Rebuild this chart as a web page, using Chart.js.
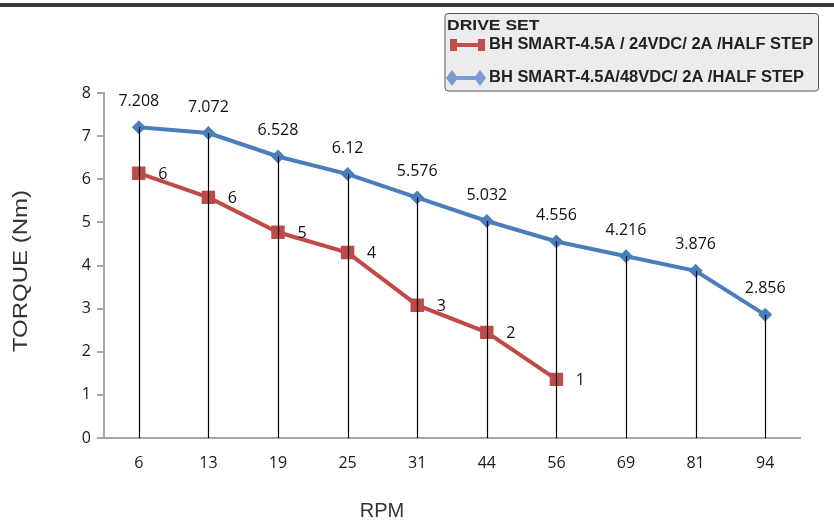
<!DOCTYPE html>
<html>
<head>
<meta charset="utf-8">
<script src="https://cdn.jsdelivr.net/npm/chart.js@4"></script>
<style>
  body { margin: 0; background: #fff; }
  canvas { display: block; }
</style>
</head>
<body>
<canvas id="torqueChart" width="834" height="524"></canvas>
<script>
const rpm = ['6', '13', '19', '25', '31', '44', '56', '69', '81', '94'];
const torque48 = [7.208, 7.072, 6.528, 6.12, 5.576, 5.032, 4.556, 4.216, 3.876, 2.856];
const torque24 = [6.14, 5.58, 4.77, 4.3, 3.08, 2.45, 1.36, null, null, null];
const labels48 = ['7.208', '7.072', '6.528', '6.12', '5.576', '5.032', '4.556', '4.216', '3.876', '2.856'];
const labels24 = ['6', '6', '5', '4', '3', '2', '1'];
const seriesNames = ['BH SMART-4.5A / 24VDC/ 2A /HALF STEP', 'BH SMART-4.5A/48VDC/ 2A /HALF STEP'];

const RED = '#be4b48';
const BLUE = '#4a7ebb';

// stretched text, some texts in the picture are a bit wide
function wideText(ctx, text, x, y, sx) {
  ctx.save();
  ctx.translate(x, y);
  ctx.scale(sx, 1);
  ctx.fillText(text, 0, 0);
  ctx.restore();
}

// drop lines, value labels, axis titles, legend box
const extras = {
  id: 'extras',
  beforeDraw(chart) {
    const ctx = chart.ctx;
    ctx.save();
    ctx.fillStyle = '#3a3a3a';
    ctx.fillRect(0, 3, chart.width, 4);
    ctx.restore();
  },
  afterDatasetsDraw(chart) {
    const ctx = chart.ctx;
    const x = chart.scales.x;
    const y = chart.scales.y;
    ctx.save();
    ctx.strokeStyle = '#000';
    ctx.lineWidth = 1.2;
    rpm.forEach((r, i) => {
      const top = Math.max(torque48[i], torque24[i] || 0);
      const px = Math.round(x.getPixelForValue(i)) + 0.5;
      ctx.beginPath();
      ctx.moveTo(px, y.getPixelForValue(top));
      ctx.lineTo(px, y.getPixelForValue(0));
      ctx.stroke();
    });

    ctx.fillStyle = '#111';
    ctx.font = '16px "Open Sans"';
    ctx.textBaseline = 'middle';
    ctx.textAlign = 'center';
    chart.getDatasetMeta(1).data.forEach((pt, i) => {
      ctx.fillText(labels48[i], pt.x, pt.y - 26);
    });
    chart.getDatasetMeta(0).data.forEach((pt, i) => {
      if (torque24[i] == null) return;
      ctx.fillText(labels24[i], pt.x + 24, pt.y + 1);
    });

    // axis titles
    ctx.fillStyle = '#333';
    ctx.font = '20px "Liberation Sans", Arial';
    ctx.fillText('RPM', 382, 511);
    ctx.translate(21.5, 271);
    ctx.rotate(-Math.PI / 2);
    wideText(ctx, 'TORQUE (Nm)', 0, 0, 1.2);
    ctx.restore();
  },
  afterDraw(chart) {
    const ctx = chart.ctx;
    ctx.save();
    ctx.beginPath();
    ctx.roundRect(445, 13.5, 373.5, 77.5, 3);
    ctx.fillStyle = '#ececec';
    ctx.fill();
    ctx.strokeStyle = '#555';
    ctx.lineWidth = 1;
    ctx.stroke();

    ctx.fillStyle = '#222';
    ctx.textBaseline = 'middle';
    ctx.textAlign = 'left';
    ctx.font = 'bold 15.5px "Liberation Sans", Arial';
    wideText(ctx, 'DRIVE SET', 447, 25.5, 1.13);
    ctx.font = 'bold 16px "Liberation Sans", Arial';
    wideText(ctx, seriesNames[0], 489, 45, 1.03);
    wideText(ctx, seriesNames[1], 489, 78, 1.03);

    // red sample
    ctx.fillStyle = '#c0504d';
    ctx.fillRect(450, 43, 35, 4);
    ctx.fillRect(450, 39, 7, 12);
    ctx.fillRect(478, 39, 7, 12);
    // blue sample
    ctx.fillStyle = '#7b9bd3';
    ctx.fillRect(450, 76, 32, 4);
    [452, 480].forEach(cx => {
      ctx.beginPath();
      ctx.moveTo(cx - 6, 78);
      ctx.lineTo(cx, 70);
      ctx.lineTo(cx + 6, 78);
      ctx.lineTo(cx, 86);
      ctx.closePath();
      ctx.fill();
    });
    ctx.restore();
  }
};

new Chart(document.getElementById('torqueChart'), {
  type: 'line',
  data: {
    labels: rpm,
    datasets: [{
      label: seriesNames[0],
      data: torque24,
      borderColor: RED,
      backgroundColor: RED,
      borderWidth: 4,
      pointStyle: 'rect',
      pointRadius: 9.5,
      pointBorderWidth: 0,
      spanGaps: false,
      tension: 0
    }, {
      label: seriesNames[1],
      data: torque48,
      borderColor: BLUE,
      backgroundColor: BLUE,
      borderWidth: 4,
      pointStyle: 'rectRot',
      pointRadius: 7,
      pointBorderWidth: 0,
      tension: 0
    }]
  },
  options: {
    responsive: false,
    animation: false,
    layout: { padding: { top: 93, right: 34, left: 0, bottom: 0 } },
    plugins: {
      legend: { display: false },
      tooltip: { enabled: false }
    },
    scales: {
      x: {
        offset: true,
        grid: { display: false },
        border: { display: true, color: '#a6a6a6', width: 2 },
        ticks: { color: '#1a1a1a', font: { family: '"Open Sans"', size: 16 }, padding: 8, maxRotation: 0 },
        afterFit(scale) { scale.height = 86; }
      },
      y: {
        min: 0,
        max: 8,
        ticks: { stepSize: 1, color: '#1a1a1a', font: { family: '"Open Sans"', size: 16 }, padding: 6 },
        grid: { drawOnChartArea: false, drawTicks: true, tickLength: 7, color: '#a6a6a6', lineWidth: 2 },
        border: { display: true, color: '#a6a6a6', width: 2 },
        afterFit(scale) { scale.width = 104; }
      }
    }
  },
  plugins: [extras]
});
</script>
</body>
</html>
